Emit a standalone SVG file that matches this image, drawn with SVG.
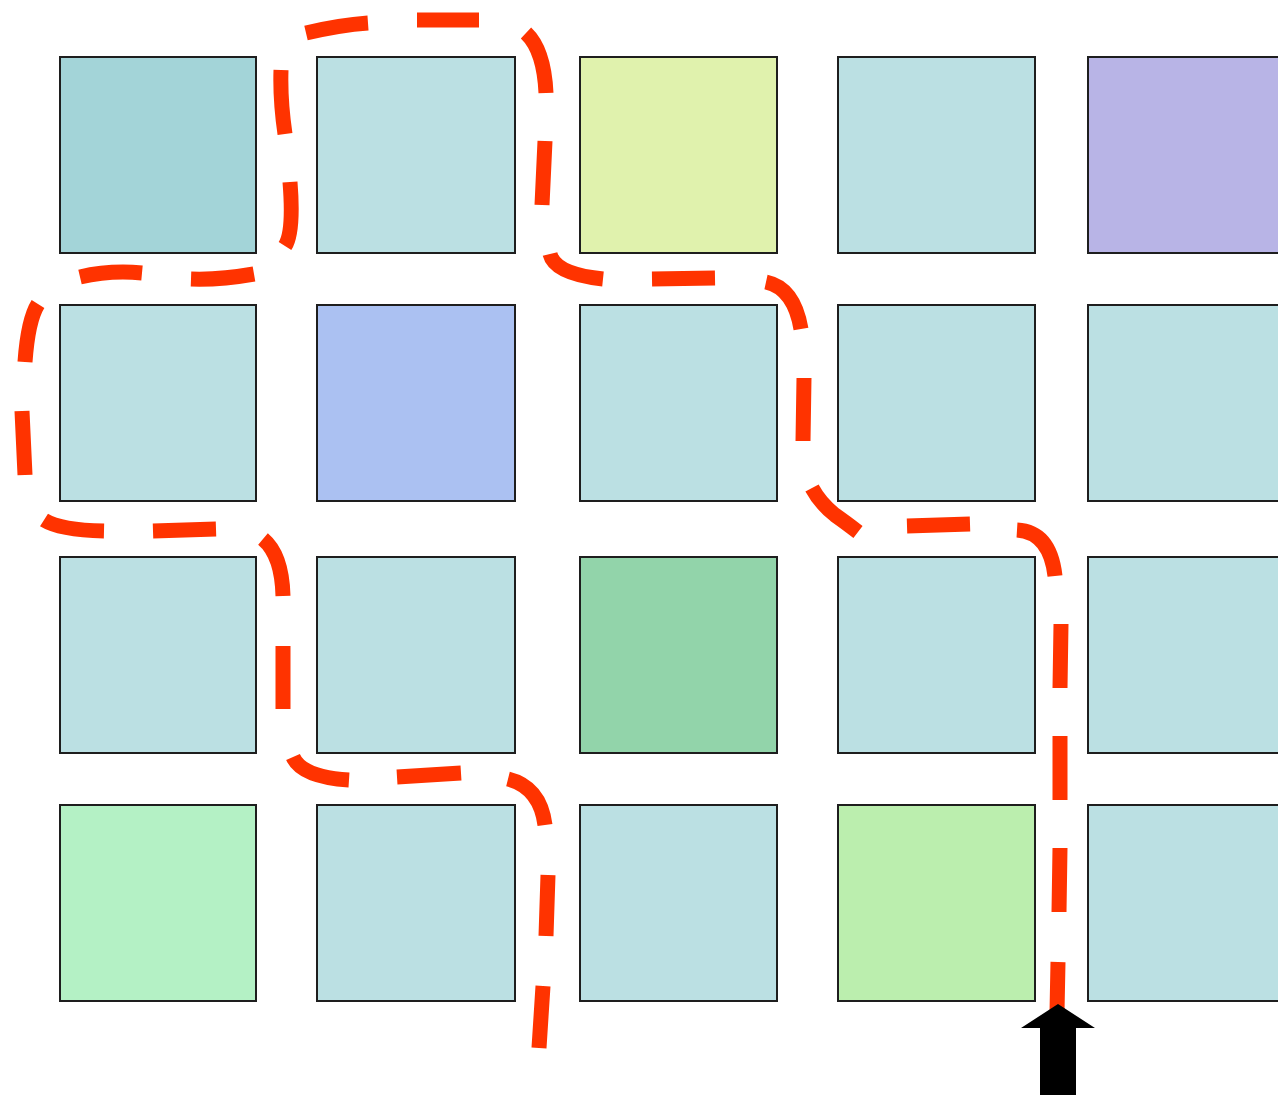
<svg xmlns="http://www.w3.org/2000/svg" width="1278" height="1098" viewBox="0 0 1278 1098">
<style>
.c{stroke:#1e1e1e;stroke-width:2}
.t{fill:#bbe0e3}
.route{fill:none;stroke:#ff3300;stroke-width:15;stroke-linecap:butt;stroke-linejoin:round}
</style>
<rect width="1278" height="1098" fill="#ffffff"/>
<g id="nodes">
<g id="r1c1"><rect class="c" x="60" y="57" width="196" height="196" fill="#a3d4d8"/></g>
<g id="r1c2"><rect class="c t" x="317" y="57" width="198" height="196"/></g>
<g id="r1c3"><rect class="c" x="580" y="57" width="197" height="196" fill="#e0f2ad"/></g>
<g id="r1c4"><rect class="c t" x="838" y="57" width="197" height="196"/></g>
<g id="r1c5"><rect class="c" x="1088" y="57" width="200" height="196" fill="#b8b4e6"/></g>
<g id="r2c1"><rect class="c t" x="60" y="305" width="196" height="196"/></g>
<g id="r2c2"><rect class="c" x="317" y="305" width="198" height="196" fill="#abc1f2"/></g>
<g id="r2c3"><rect class="c t" x="580" y="305" width="197" height="196"/></g>
<g id="r2c4"><rect class="c t" x="838" y="305" width="197" height="196"/></g>
<g id="r2c5"><rect class="c t" x="1088" y="305" width="200" height="196"/></g>
<g id="r3c1"><rect class="c t" x="60" y="557" width="196" height="196"/></g>
<g id="r3c2"><rect class="c t" x="317" y="557" width="198" height="196"/></g>
<g id="r3c3"><rect class="c" x="580" y="557" width="197" height="196" fill="#92d4aa"/></g>
<g id="r3c4"><rect class="c t" x="838" y="557" width="197" height="196"/></g>
<g id="r3c5"><rect class="c t" x="1088" y="557" width="200" height="196"/></g>
<g id="r4c1"><rect class="c" x="60" y="805" width="196" height="196" fill="#b4f1c5"/></g>
<g id="r4c2"><rect class="c t" x="317" y="805" width="198" height="196"/></g>
<g id="r4c3"><rect class="c t" x="580" y="805" width="197" height="196"/></g>
<g id="r4c4"><rect class="c" x="838" y="805" width="197" height="196" fill="#bbeeae"/></g>
<g id="r4c5"><rect class="c t" x="1088" y="805" width="200" height="196"/></g>
</g>
<g id="connectors">
<path class="route" d="M1057,1012 L1058,962 M1059,912 L1060,848 M1060,800 L1060,736 M1060,688 L1061,624 M1055,576 Q1050,532 1017,530 M970,524 L907,526 M858,532 Q845,522 835,515 Q820,503 812,488 M803,441 L804,378 M801,329 Q794,288 766,282 M715,278 L652,279 M603,279 Q555,274 550,254 M542,205 L545,141 M546,93 Q544,50 526,33 M479,20 L417,20 M368,23 Q340,25 306,33 M281,70 Q280,100 285,134 M290,182 Q294,232 285,246 M254,274 Q220,280 191,279 M142,273 Q110,270 80,277 M38,304 Q28,320 25,362 M22,411 L25,475 M44,520 Q60,530 104,531 M153,531 L216,529 M263,539 Q282,555 283,596 M283,646 L283,709 M293,757 Q302,777 349,780 M397,777 L461,773 M508,779 Q540,787 545,825 M548,875 L546,936 M543,986 L539,1048"/>
<polygon id="arrow" points="1058,1004 1095,1028 1076,1028 1076,1095 1040,1095 1040,1028 1021,1028" fill="#000000"/>
</g>
</svg>
